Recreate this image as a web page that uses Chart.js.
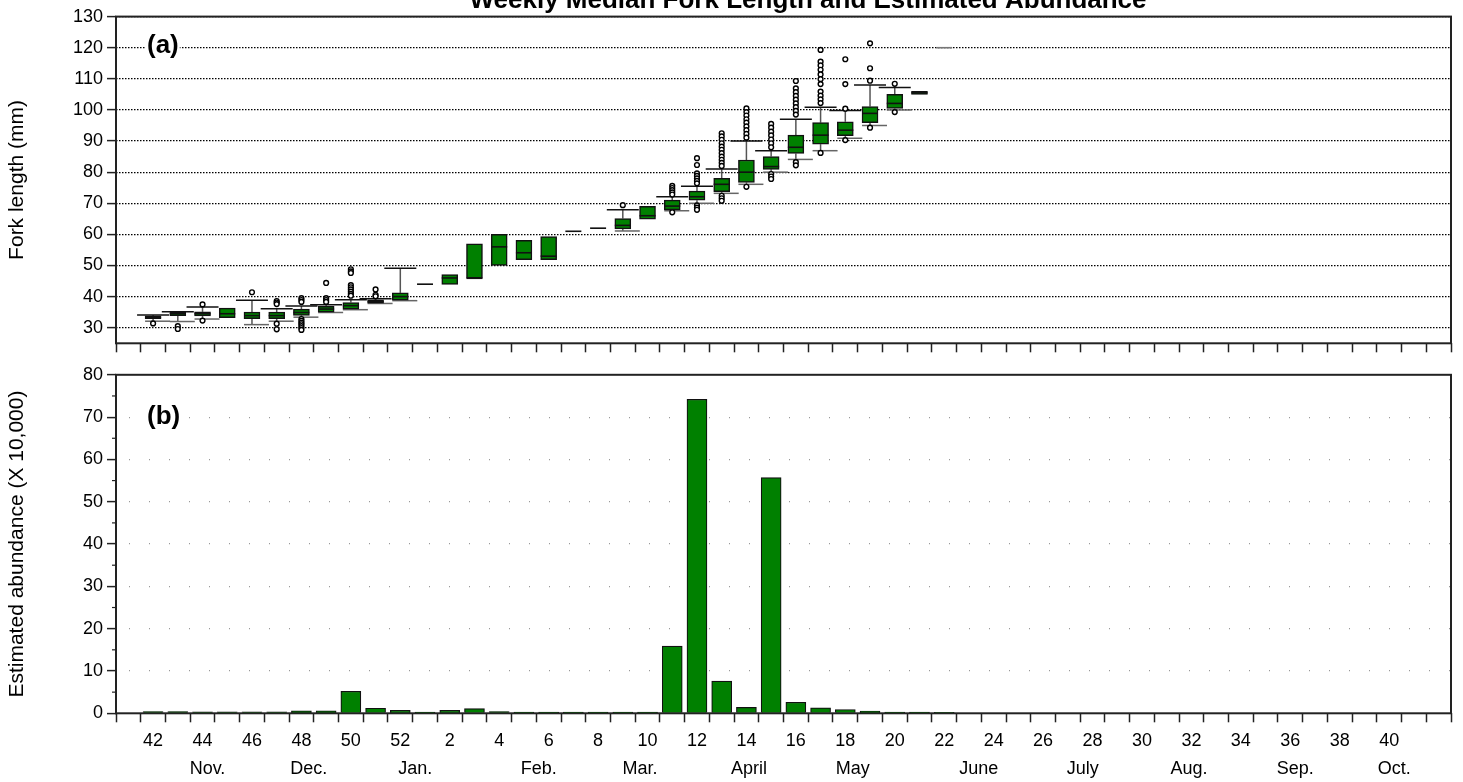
<!DOCTYPE html>
<html>
<head>
<meta charset="utf-8">
<script src="https://cdn.jsdelivr.net/npm/chart.js@4.4.1/dist/chart.umd.min.js"></script>
<style>
    body { margin: 0; background: #fff; overflow: hidden; }
    canvas { position: absolute; left: 0; }
    #topChart { top: 0; }
    #bottomChart { top: 360px; }
</style>
</head>
<body>
<canvas id="topChart" width="1463" height="360"></canvas>
<canvas id="bottomChart" width="1463" height="422"></canvas>
<script>
// week labels along the x axis (Oct. to Oct.)
const weeks = [42, 43, 44, 45, 46, 47, 48, 49, 50, 51, 52,
    1, 2, 3, 4, 5, 6, 7, 8, 9, 10, 11, 12, 13, 14, 15, 16, 17, 18, 19, 20,
    21, 22, 23, 24, 25, 26, 27, 28, 29, 30, 31, 32, 33, 34, 35, 36, 37, 38, 39, 40, 41];

// month labels and the week position they sit under
const monthLabels = ['Nov.', 'Dec.', 'Jan.', 'Feb.', 'Mar.', 'April', 'May', 'June', 'July', 'Aug.', 'Sep.', 'Oct.'];
const monthAt = [44.2, 48.3, 52.6, 57.6, 61.7, 66.1, 70.3, 75.4, 79.6, 83.9, 88.2, 92.2];

// (a) weekly fork length box plots, week 42 .. week 22
const boxLow    = [32.1, 32.0, 32.8, null, 31.0, 32.1, 33.4, 34.9, 35.8, 37.8, 38.7,
    null, null, null, null, null, null, null, null, 61.1, null, 67.6, 70.0, 73.2, 76.1, 80.0, 84.1, 86.9, 90.9, 95.0, 100.0, null, null];
const boxQ1     = [32.9, 33.9, 33.8, 33.2, 32.9, 32.9, 34.0, 35.0, 36.0, 37.9, 38.9,
    44.0, 43.9, 45.9, 50.0, 51.9, 51.9, 61.0, 62.0, 61.8, 64.9, 67.9, 71.0, 73.7, 76.7, 80.9, 86.0, 89.0, 91.7, 95.9, 100.5, 105.0, 120.0];
const boxMedian = [33.3, 34.5, 34.5, 34.5, 33.9, 33.9, 34.9, 36.0, 37.1, 38.4, 40.0,
    44.0, 46.0, 45.9, 56.0, 54.1, 53.0, 61.0, 62.0, 62.9, 66.0, 69.1, 72.1, 76.1, 80.0, 81.8, 88.0, 91.9, 93.5, 98.9, 102.1, 105.5, 120.0];
const boxQ3     = [33.8, 35.0, 35.1, 36.3, 35.0, 35.0, 36.0, 36.9, 38.1, 39.0, 41.2,
    44.0, 47.1, 57.0, 60.0, 58.1, 59.3, 61.0, 62.0, 65.1, 69.0, 71.0, 73.9, 78.0, 83.9, 85.0, 91.9, 95.9, 96.2, 101.1, 105.0, 106.0, 120.0];
const boxHigh   = [34.1, 35.1, 36.7, null, 38.8, 36.1, 37.0, 37.4, 39.0, 39.3, 49.1,
    null, null, null, null, null, null, null, null, 67.9, null, 72.1, 75.5, 81.0, 90.0, 86.9, 97.0, 100.9, 99.8, 108.0, 107.2, null, null];
const outliers = [
    [31.4],
    [30.5, 29.6],
    [37.5, 32.3],
    [],
    [41.4],
    [38.6, 38.1, 37.6, 31.3, 29.5],
    [39.5, 38.9, 38.3, 32.8, 32.2, 31.6, 31.1, 30.5, 29.9, 29.3],
    [44.4, 39.5, 38.9, 38.3],
    [48.8, 48.1, 47.6, 43.7, 43.0, 42.3, 41.6, 40.9, 40.3],
    [42.3, 40.6, 40.1],
    [], [], [], [], [], [], [], [], [],
    [69.4],
    [],
    [75.6, 74.9, 74.2, 73.5, 72.8, 67.1],
    [84.5, 82.3, 79.6, 78.8, 78.0, 77.2, 76.4, 69.3, 68.6, 67.9],
    [92.5, 91.5, 90.4, 89.3, 88.2, 87.2, 86.1, 85.0, 84.0, 83.0, 82.0, 72.4, 71.6, 70.8],
    [100.5, 99.3, 98.2, 97.0, 95.9, 94.7, 93.5, 92.3, 91.1, 75.3],
    [95.5, 94.3, 93.0, 91.8, 90.5, 89.3, 88.0, 79.4, 78.6, 77.8],
    [109.3, 106.9, 105.7, 104.5, 103.3, 102.1, 100.9, 99.7, 98.5, 83.2, 82.2],
    [119.3, 115.5, 114.3, 112.9, 111.4, 109.9, 108.3, 105.9, 104.6, 103.4, 102.2, 86.2],
    [116.3, 108.3, 100.4, 90.3],
    [121.4, 113.4, 109.4, 94.3],
    [108.4, 99.3],
    [], []
];

// (b) estimated abundance (X 10,000), week 42 .. week 22
const abundance = [0.4, 0.4, 0.35, 0.35, 0.35, 0.35, 0.6, 0.6, 5.2, 1.2, 0.7,
    0.3, 0.7, 1.1, 0.4, 0.3, 0.3, 0.3, 0.3, 0.3, 0.3, 15.9, 74.2, 7.6, 1.4, 55.7, 2.6, 1.3, 0.9, 0.5, 0.3, 0.3, 0.25];

const lengthTicks = [30, 40, 50, 60, 70, 80, 90, 100, 110, 120, 130];
const abundanceTicks = [0, 10, 20, 30, 40, 50, 60, 70, 80];

Chart.defaults.font.family = "'Liberation Sans', Arial, sans-serif";
Chart.defaults.font.size = 18;
Chart.defaults.color = '#000';

// week number -> position on the linear x axis
const weekPos = i => 42 + i;

const weekTicks = [];
for (let v = 41; v <= 94; v++) weekTicks.push({value: v});

function line(ctx, x1, y1, x2, y2) {
    ctx.beginPath();
    ctx.moveTo(x1, y1);
    ctx.lineTo(x2, y2);
    ctx.stroke();
}

// frame round the plot area
const frame = {
    id: 'frame',
    afterDraw(chart) {
        const {ctx, chartArea: a} = chart;
        ctx.save();
        ctx.strokeStyle = '#222';
        ctx.lineWidth = 2;
        ctx.strokeRect(a.left, a.top, a.right - a.left, a.bottom - a.top);
        ctx.restore();
    }
};

function panelLabel(text, baseline) {
    return {
        id: 'panelLabel',
        afterDraw(chart) {
            const ctx = chart.ctx;
            ctx.save();
            ctx.font = "bold 26px 'Liberation Sans', Arial, sans-serif";
            const w = ctx.measureText(text).width;
            ctx.fillStyle = '#fff';
            ctx.fillRect(146, baseline - 21, w + 2, 26);
            ctx.fillStyle = '#000';
            ctx.textBaseline = 'alphabetic';
            ctx.fillText(text, 147, baseline);
            ctx.restore();
        }
    };
}

// whiskers, caps and medians of the box plots
const boxParts = {
    id: 'boxParts',
    beforeDatasetsDraw(chart) {
        const {ctx, scales: {x, y}} = chart;
        ctx.save();
        ctx.lineWidth = 1.5;
        boxQ1.forEach((q1, i) => {
            const cx = x.getPixelForValue(weekPos(i));
            if (boxHigh[i] != null) {
                const yh = y.getPixelForValue(boxHigh[i]);
                ctx.strokeStyle = '#555';
                line(ctx, cx, y.getPixelForValue(boxQ3[i]), cx, yh);
                ctx.strokeStyle = '#111';
                line(ctx, cx - 16, yh, cx + 16, yh);
            }
            if (boxLow[i] != null) {
                const yl = y.getPixelForValue(boxLow[i]);
                ctx.strokeStyle = '#555';
                line(ctx, cx, y.getPixelForValue(q1), cx, yl);
                ctx.strokeStyle = '#666';
                line(ctx, cx - 8, yl, cx + 17, yl);
            }
        });
        ctx.restore();
    },
    afterDatasetDraw(chart, args) {
        if (args.index !== 0) return;
        const {ctx, scales: {x, y}} = chart;
        ctx.save();
        ctx.lineWidth = 1.6;
        boxMedian.forEach((m, i) => {
            const cx = x.getPixelForValue(weekPos(i));
            const ym = y.getPixelForValue(m);
            // a week with a single fish shows as a plain grey dash
            ctx.strokeStyle = m === 120 ? '#777' : '#111';
            line(ctx, cx - 8, ym, cx + 8, ym);
        });
        ctx.restore();
    }
};

const chartTitle = {
    id: 'chartTitle',
    afterDraw(chart) {
        const ctx = chart.ctx;
        ctx.save();
        ctx.font = "bold 26px 'Liberation Sans', Arial, sans-serif";
        ctx.fillStyle = '#000';
        ctx.textAlign = 'center';
        ctx.textBaseline = 'alphabetic';
        ctx.fillText('Weekly Median Fork Length and Estimated Abundance', 808, 8);
        ctx.restore();
    }
};

const monthRow = {
    id: 'monthRow',
    afterDraw(chart) {
        const {ctx, scales: {x}} = chart;
        ctx.save();
        ctx.font = "18px 'Liberation Sans', Arial, sans-serif";
        ctx.fillStyle = '#000';
        ctx.textAlign = 'center';
        ctx.textBaseline = 'middle';
        monthLabels.forEach((m, i) => ctx.fillText(m, x.getPixelForValue(monthAt[i]), 409));
        ctx.restore();
    }
};

const minorTicks = {
    id: 'minorTicks',
    afterDraw(chart) {
        const {ctx, scales: {y}, chartArea: a} = chart;
        ctx.save();
        ctx.strokeStyle = '#222';
        ctx.lineWidth = 1.2;
        abundanceTicks.slice(0, -1).forEach(v => {
            const py = y.getPixelForValue(v + 5);
            line(ctx, a.left - 4, py, a.left, py);
        });
        ctx.restore();
    }
};

const boxes = [];
const outlierPoints = [];
boxQ1.forEach((q1, i) => {
    boxes.push({x: weekPos(i), y: [q1, boxQ3[i]]});
    outliers[i].forEach(v => outlierPoints.push({x: weekPos(i), y: v}));
});

new Chart(document.getElementById('topChart'), {
    type: 'bar',
    data: {
        datasets: [
            {
                type: 'bar',
                data: boxes,
                backgroundColor: '#008000',
                borderColor: '#111',
                borderWidth: 1.5,
                borderSkipped: false,
                barThickness: 16
            },
            {
                type: 'scatter',
                data: outlierPoints,
                pointRadius: 2.4,
                pointBackgroundColor: '#fff',
                pointBorderColor: '#000',
                pointBorderWidth: 1.4
            }
        ]
    },
    options: {
        responsive: false,
        animation: false,
        layout: {padding: {top: 16.6, right: 12, bottom: 0, left: 0}},
        plugins: {legend: {display: false}, tooltip: {enabled: false}},
        scales: {
            x: {
                type: 'linear',
                min: 41,
                max: 94,
                afterBuildTicks: s => { s.ticks = weekTicks.slice(); },
                afterFit: s => { s.height = 16.7; },
                ticks: {display: false},
                grid: {drawOnChartArea: false, tickLength: 9, tickColor: '#222', tickWidth: 1.5},
                border: {display: false}
            },
            y: {
                min: 25,
                max: 130,
                afterBuildTicks: s => { s.ticks = lengthTicks.map(v => ({value: v})); },
                afterFit: s => { s.width = 116; },
                ticks: {padding: 4},
                grid: {color: '#000', lineWidth: 1.2, tickLength: 9, tickColor: '#222', tickWidth: 1.5},
                border: {display: false, dash: [1.5, 1.5]},
                title: {display: true, text: 'Fork length (mm)', font: {size: 21}, padding: {top: 5, bottom: 0}}
            }
        }
    },
    plugins: [boxParts, frame, panelLabel('(a)', 53), chartTitle]
});

new Chart(document.getElementById('bottomChart'), {
    type: 'bar',
    data: {
        datasets: [{
            data: abundance.map((v, i) => ({x: weekPos(i), y: v})),
            backgroundColor: '#008000',
            borderColor: '#111',
            borderWidth: 1.2,
            barThickness: 20
        }]
    },
    options: {
        responsive: false,
        animation: false,
        layout: {padding: {top: 11.3, right: 12, bottom: 0, left: 0}},
        plugins: {legend: {display: false}, tooltip: {enabled: false}},
        scales: {
            x: {
                type: 'linear',
                min: 41,
                max: 94,
                afterBuildTicks: s => { s.ticks = weekTicks.slice(); },
                afterFit: s => { s.height = 68.7; },
                ticks: {
                    autoSkip: false,
                    maxRotation: 0,
                    padding: 8,
                    callback: v => (v >= 42 && v <= 92 && (v - 42) % 2 === 0) ? String(weeks[v - 42]) : ''
                },
                grid: {drawOnChartArea: false, tickLength: 9, tickColor: '#222', tickWidth: 1.5},
                border: {display: false}
            },
            y: {
                min: 0,
                max: 80,
                afterBuildTicks: s => { s.ticks = abundanceTicks.map(v => ({value: v})); },
                afterFit: s => { s.width = 116; },
                ticks: {padding: 4},
                grid: {
                    color: c => (c.tick && (c.tick.value === 0 || c.tick.value === 80)) ? 'rgba(0,0,0,0)' : '#999',
                    lineWidth: 1.2,
                    tickLength: 9,
                    tickColor: '#222',
                    tickWidth: 1.5
                },
                border: {display: false, dash: [1, 19], dashOffset: 7},
                title: {display: true, text: 'Estimated abundance (X 10,000)', font: {size: 21}, padding: {top: 5, bottom: 0}}
            }
        }
    },
    plugins: [frame, minorTicks, monthRow, panelLabel('(b)', 424 - 360)]
});
</script>
</body>
</html>
